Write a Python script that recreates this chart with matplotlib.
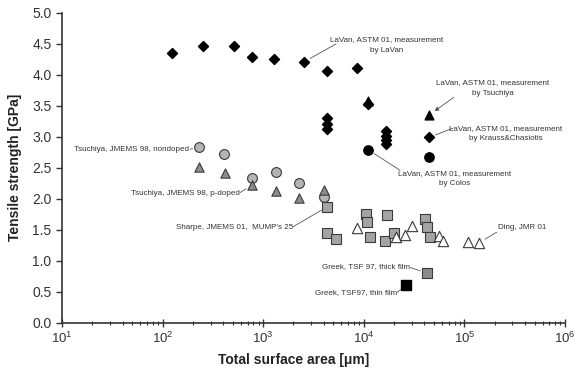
import matplotlib
matplotlib.use("Agg")
import matplotlib.pyplot as plt

plt.rcParams['font.family'] = ['Liberation Sans', 'DejaVu Sans']

# LaVan, ASTM 01, measurement by LaVan (black diamonds)
lavan_x = [125, 254, 513, 769, 1280, 2550, 4270, 8500]
lavan_y = [4.35, 4.47, 4.47, 4.29, 4.26, 4.21, 4.07, 4.11]

# other LaVan measurements (black stacks near 4e3 - 2e4)
stack_x = [4270, 4270, 4270, 11000, 16600, 16600, 16600, 16600]
stack_y = [3.30, 3.21, 3.13, 3.53, 3.10, 3.02, 2.95, 2.89]
tsuchiya_lav_x = [11000, 44500]
tsuchiya_lav_y = [3.58, 3.35]
krauss_x = [44500]
krauss_y = [2.99]
colos_x = [11100, 44500]
colos_y = [2.79, 2.67]

# Tsuchiya, JMEMS 98
nondoped_x = [232, 407, 769, 1340, 2270, 3980]
nondoped_y = [2.83, 2.72, 2.34, 2.44, 2.25, 2.03]
pdoped_x = [232, 414, 770, 1340, 2270, 3980]
pdoped_y = [2.52, 2.42, 2.22, 2.12, 2.01, 2.14]

# Sharpe, JMEMS 01, MUMP's 25
sharpe_x = [4340, 4270, 5300, 10500, 10700, 11500, 16900, 16300, 20000, 41000, 42500, 46000]
sharpe_y = [1.87, 1.45, 1.35, 1.76, 1.63, 1.39, 1.74, 1.32, 1.44, 1.68, 1.55, 1.39]

# Ding, JMR 01
ding_x = [8500, 21000, 25700, 29900, 56000, 61600, 110000, 140000]
ding_y = [1.52, 1.39, 1.42, 1.56, 1.40, 1.32, 1.31, 1.29]

# Greek, TSF 97
thick_x = [42500]
thick_y = [0.80]
thin_x = [26400]
thin_y = [0.61]

fig = plt.figure(figsize=(5.77, 3.70), dpi=100)
ax = fig.add_axes([0.1075, 0.128, 0.8715, 0.837])

edge = '#3a3a3a'
ax.scatter(lavan_x, lavan_y, marker='D', s=26, c='black', zorder=3)
ax.scatter(stack_x, stack_y, marker='D', s=26, c='black', zorder=3)
ax.scatter(tsuchiya_lav_x, tsuchiya_lav_y, marker='^', s=40, c='black', zorder=3)
ax.scatter(krauss_x, krauss_y, marker='D', s=26, c='black', zorder=3)
ax.scatter(colos_x, colos_y, marker='o', s=45, c='black', zorder=3)
ax.scatter(nondoped_x, nondoped_y, marker='o', s=50, c='#b4b4b4', edgecolors=edge, linewidths=0.8, zorder=3)
ax.scatter(pdoped_x, pdoped_y, marker='^', s=45, c='#8c8c8c', edgecolors=edge, linewidths=0.8, zorder=4)
ax.scatter(sharpe_x, sharpe_y, marker='s', s=60, c='#a4a4a4', edgecolors=edge, linewidths=0.8, zorder=3)
ax.scatter(ding_x, ding_y, marker='^', s=55, c='white', edgecolors=edge, linewidths=0.8, zorder=3)
ax.scatter(thick_x, thick_y, marker='s', s=60, c='#8c8c8c', edgecolors=edge, linewidths=0.8, zorder=3)
ax.scatter(thin_x, thin_y, marker='s', s=55, c='black', zorder=3)

ax.set_xscale('log')
ax.set_xlim(10, 1e6)
ax.set_ylim(0, 5)
ax.set_yticks([0, 0.5, 1, 1.5, 2, 2.5, 3, 3.5, 4, 4.5, 5])
ax.set_yticklabels(['0.0', '0.5', '1.0', '1.5', '2.0', '2.5', '3.0', '3.5', '4.0', '4.5', '5.0'])
ax.spines['top'].set_visible(False)
ax.spines['right'].set_visible(False)
for s in ['left', 'bottom']:
    ax.spines[s].set_linewidth(1.2)
    ax.spines[s].set_color('#333333')
ax.tick_params(axis='y', direction='out', length=4, width=1, colors='#333333', labelsize=10)
ax.tick_params(axis='x', which='major', direction='inout', length=6, width=1, colors='#333333', labelsize=9.5, pad=3)
ax.tick_params(axis='x', which='minor', direction='inout', length=3, width=0.8, colors='#333333')

ax.set_xlabel('Total surface area [\u03bcm]', fontsize=10, fontweight='bold', color='#222222')
ax.xaxis.set_label_coords(0.461, -0.097)
ax.set_ylabel('Tensile strength [GPa]', fontsize=10, fontweight='bold', color='#222222')
ax.yaxis.set_label_coords(-0.08, 0.5)

fs = 5.8
tc = '#333333'
lp = dict(arrowstyle='-', lw=0.6, color='#555555', shrinkA=0, shrinkB=5)

def label(txt, tx, ty, px, py, lx, ly, ha='center', arrow=False):
    ax.text(tx, ty, txt, fontsize=fs, color=tc, ha=ha, va='center', linespacing=1.7, zorder=5)
    props = dict(lp)
    if arrow:
        props['arrowstyle'] = '-|>'
        props['mutation_scale'] = 6
    ax.annotate('', xy=(px, py), xytext=(lx, ly), arrowprops=props, zorder=5)

label('LaVan, ASTM 01, measurement\nby LaVan', 17000, 4.48, 2550, 4.21, 5300, 4.50)
label('LaVan, ASTM 01, measurement\nby Tsuchiya', 192000, 3.79, 44500, 3.35, 78900, 3.64, arrow=True)
label('LaVan, ASTM 01, measurement\nby Krauss&Chasiotis', 259000, 3.05, 44500, 2.99, 77100, 3.14)
label('LaVan, ASTM 01, measurement\nby Colos', 80700, 2.33, 11100, 2.79, 22900, 2.46)
label('Tsuchiya, JMEMS 98, nondoped', 185, 2.79, 232, 2.83, 188, 2.80, ha='right')
label('Tsuchiya, JMEMS 98, p-doped', 590, 2.09, 770, 2.22, 590, 2.10, ha='right')
label("Sharpe, JMEMS 01,  MUMP's 25", 1980, 1.53, 4340, 1.87, 1990, 1.55, ha='right')
label('Ding, JMR 01', 216000, 1.54, 140000, 1.29, 210000, 1.46, ha='left')
label('Greek, TSF 97, thick film', 28800, 0.91, 42500, 0.80, 29000, 0.89, ha='right')
label('Greek, TSF97, thin film', 21400, 0.49, 26400, 0.61, 21600, 0.49, ha='right')

fig.savefig('out.png', dpi=100)
